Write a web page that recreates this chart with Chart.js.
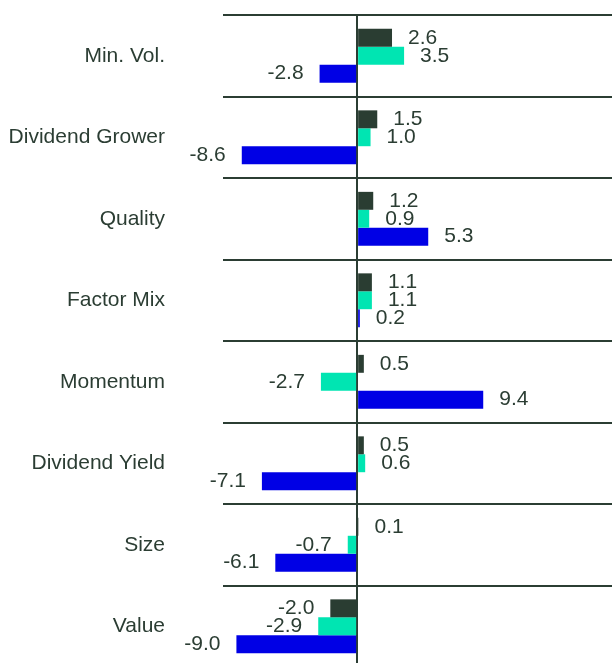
<!DOCTYPE html>
<html>
<head>
<meta charset="utf-8">
<script src="https://cdn.jsdelivr.net/npm/chart.js@4.4.0/dist/chart.umd.min.js"></script>
<style>
html,body{margin:0;padding:0;background:#fff;overflow:hidden;}
#wrap{position:relative;width:612px;height:667px;}
</style>
</head>
<body>
<div id="wrap"><canvas id="c"></canvas></div>
<script>
const categories = ["Min. Vol.", "Dividend Grower", "Quality", "Factor Mix", "Momentum", "Dividend Yield", "Size", "Value"];
const seriesDark = [2.6, 1.5, 1.2, 1.1, 0.5, 0.5, 0.1, -2.0];
const seriesTeal = [3.5, 1.0, 0.9, 1.1, -2.7, 0.6, -0.7, -2.9];
const seriesBlue = [-2.8, -8.6, 5.3, 0.2, 9.4, -7.1, -6.1, -9.0];

const TEXT = '#2b3d33';
const FONT = 'Liberation Sans, Arial, sans-serif';

const labelPlugin = {
  id: 'valueLabels',
  afterDatasetsDraw(chart) {
    const ctx = chart.ctx;
    ctx.save();
    ctx.font = '21px ' + FONT;
    ctx.fillStyle = TEXT;
    ctx.textBaseline = 'middle';
    chart.data.datasets.forEach((ds, di) => {
      const meta = chart.getDatasetMeta(di);
      meta.data.forEach((bar, i) => {
        const v = ds.data[i];
        const txt = v.toFixed(1);
        if (v >= 0) {
          ctx.textAlign = 'left';
          ctx.fillText(txt, bar.x + 16, bar.y);
        } else {
          ctx.textAlign = 'right';
          ctx.fillText(txt, bar.x - 16, bar.y);
        }
      });
    });
    ctx.restore();
  }
};

new Chart(document.getElementById('c'), {
  type: 'bar',
  data: {
    labels: categories,
    datasets: [
      { data: seriesDark, backgroundColor: '#2a3d32' },
      { data: seriesTeal, backgroundColor: '#00e5b2' },
      { data: seriesBlue, backgroundColor: '#0000e5' }
    ]
  },
  options: {
    indexAxis: 'y',
    responsive: true,
    maintainAspectRatio: false,
    animation: false,
    layout: { padding: { top: 15, right: 0, bottom: 0, left: 0 } },
    datasets: { bar: { categoryPercentage: 0.66, barPercentage: 1.0 } },
    plugins: { legend: { display: false }, tooltip: { enabled: false } },
    scales: {
      x: {
        min: -10, max: 19,
        ticks: { display: false, stepSize: 1 },
        border: { display: false },
        grid: {
          drawTicks: false,
          lineWidth: 2,
          color: (c) => (c.tick && c.tick.value === 0) ? TEXT : 'rgba(0,0,0,0)'
        }
      },
      y: {
        afterFit: (s) => { s.width = 223; s.paddingTop = 0; s.paddingBottom = 0; },
        border: { display: false },
        grid: { drawTicks: false, lineWidth: 2, color: TEXT },
        ticks: { padding: 58, color: TEXT, font: { family: FONT, size: 21 } }
      }
    }
  },
  plugins: [labelPlugin]
});
</script>
</body>
</html>
